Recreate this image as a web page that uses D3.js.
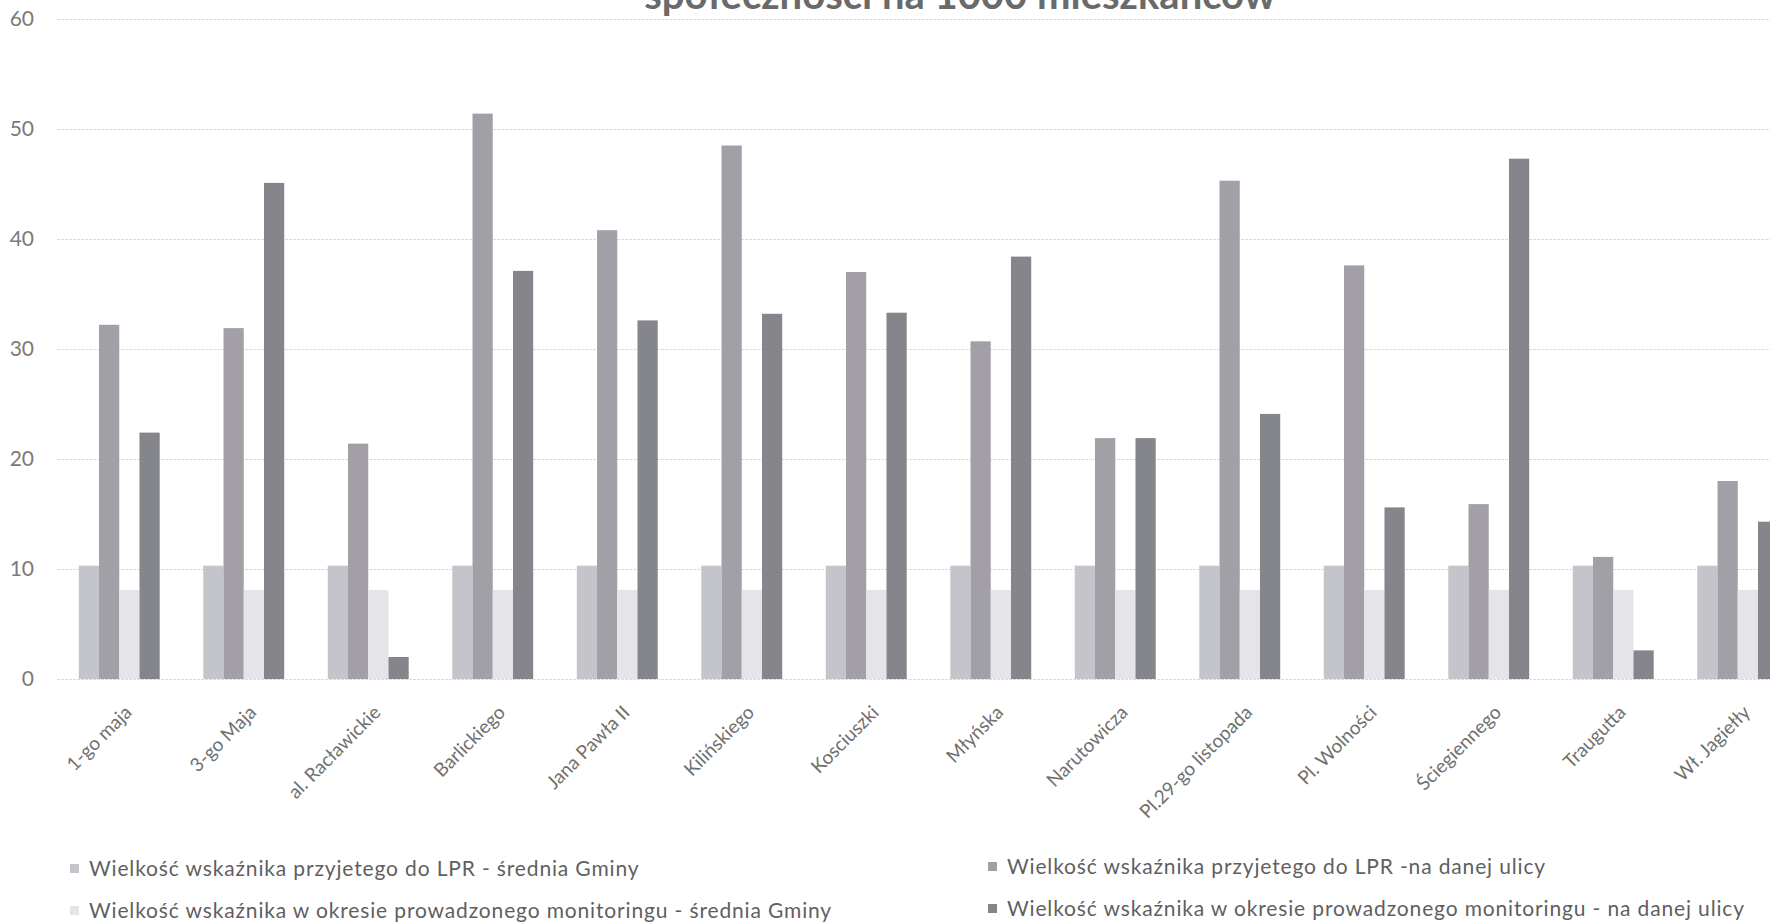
<!DOCTYPE html>
<html><head><meta charset="utf-8">
<script src="https://cdn.jsdelivr.net/npm/d3@7"></script>
<style>
html,body{margin:0;padding:0;background:#fff;overflow:hidden;}
svg{display:block;}
text{font-family:Lato,"Open Sans",sans-serif;}
</style></head>
<body>
<svg id="chart" width="1770" height="923"></svg>
<script>
const categories = ["1-go maja","3-go Maja","al. Racławickie","Barlickiego","Jana Pawła II","Kilińskiego","Kosciuszki","Młyńska","Narutowicza","Pl.29-go listopada","Pl. Wolności","Ściegiennego","Traugutta","Wł. Jagiełły"];
const seriesNames = [
  "Wielkość wskaźnika przyjetego do LPR - średnia Gminy",
  "Wielkość wskaźnika przyjetego do LPR -na danej ulicy",
  "Wielkość wskaźnika w okresie prowadzonego monitoringu - średnia Gminy",
  "Wielkość wskaźnika w okresie prowadzonego monitoringu - na danej ulicy"
];
const lprGmina = [10.3,10.3,10.3,10.3,10.3,10.3,10.3,10.3,10.3,10.3,10.3,10.3,10.3,10.3];
const lprUlica = [32.2,31.9,21.4,51.4,40.8,48.5,37.0,30.7,21.9,45.3,37.6,15.9,11.1,18.0];
const monGmina = [8.1,8.1,8.1,8.1,8.1,8.1,8.1,8.1,8.1,8.1,8.1,8.1,8.1,8.1];
const monUlica = [22.4,45.1,2.0,37.1,32.6,33.2,33.3,38.4,21.9,24.1,15.6,47.3,2.6,14.3];
const yTicks = [0,10,20,30,40,50,60];
const titleText = "społeczności na 1000 mieszkańców";

const seriesValues = [lprGmina, lprUlica, monGmina, monUlica];
const colors = ["#c4c4cb","#a2a0a6","#e4e4e9","#85858c"];

const svg = d3.select("#chart");
const W = 1770, H = 923;

const y = d3.scaleLinear().domain([0,60]).range([679,19]);
const x = d3.scaleBand().domain(categories).range([57,1800]).paddingInner(0.35).paddingOuter(0.175);
const x1 = d3.scaleBand().domain(d3.range(4)).range([0, x.bandwidth()]);

// title (cut off at top, as in the reference)
svg.append("text").attr("x",960).attr("y",9).attr("text-anchor","middle")
  .attr("font-size",40).attr("font-weight","bold").attr("fill","#6a6a6a").text(titleText);

// gridlines
svg.append("g").selectAll("line").data(yTicks).join("line")
  .attr("x1",57).attr("x2",W).attr("y1",d=>y(d)+0.5).attr("y2",d=>y(d)+0.5)
  .attr("stroke","#dcdcdc").attr("stroke-width",1).attr("stroke-dasharray","3,1");

// y labels
svg.append("g").selectAll("text").data(yTicks).join("text")
  .attr("x",34).attr("y",d=>y(d)).attr("dy","0.35em").attr("text-anchor","end")
  .attr("font-size",21).attr("fill","#7a7a7a").text(d=>d);

// bars
const g = svg.append("g");
categories.forEach((c,i)=>{
  seriesValues.forEach((vals,s)=>{
    g.append("rect")
      .attr("x", x(c)+x1(s)).attr("width", x1.bandwidth())
      .attr("y", y(vals[i])).attr("height", y(0)-y(vals[i]))
      .attr("fill", colors[s]);
  });
});

// x labels
svg.append("g").selectAll("text").data(categories).join("text")
  .attr("transform",d=>`translate(${x(d)+x.bandwidth()/2+4},704) rotate(-45)`)
  .attr("text-anchor","end").attr("dy","0.72em")
  .attr("font-size",19).attr("fill","#707070").text(d=>d);

// legend: left column = średnia Gminy, right column = na danej ulicy
const legPos = [[70,869],[988,867],[70,911],[988,909]];
const leg = svg.append("g");
seriesNames.forEach((n,i)=>{
  const [lx,ly] = legPos[i];
  leg.append("rect").attr("x",lx).attr("y",ly-5).attr("width",9).attr("height",9).attr("fill",colors[i]);
  leg.append("text").attr("x",lx+19).attr("y",ly).attr("dy","0.35em")
    .attr("font-size",21).attr("letter-spacing",0.85).attr("fill","#5f5f5f").text(n);
});
</script>
</body></html>
